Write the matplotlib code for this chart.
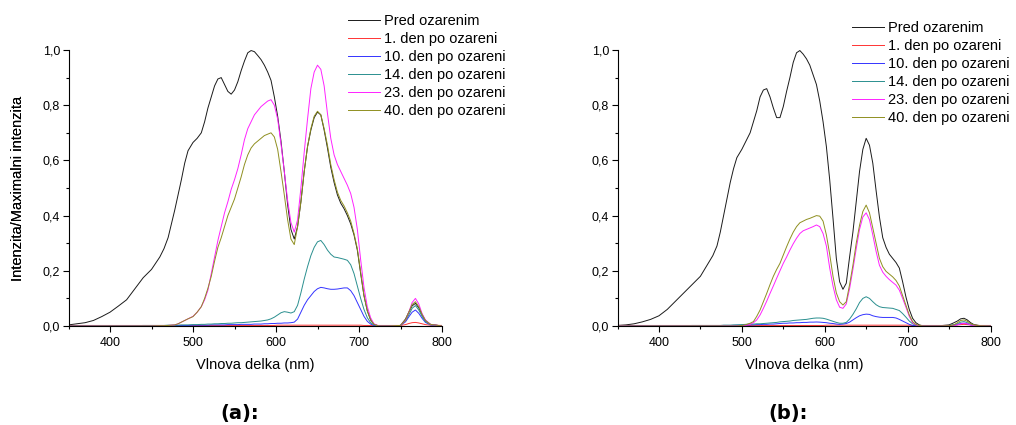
import matplotlib
matplotlib.use("Agg")
import matplotlib.pyplot as plt
from matplotlib.ticker import MultipleLocator, FuncFormatter
import numpy as np

plt.rcParams['font.family'] = ['Liberation Sans', 'DejaVu Sans']

# wavelength grid (nm), shared by both panels
wavelength = [350, 360, 370, 380, 390, 400, 410, 420, 430, 440, 450, 460, 465, 470, 474, 478,
              482, 486, 490, 494, 500, 505, 510, 514, 518, 522, 526, 530, 534, 538, 542, 546,
              550, 554, 558, 562, 566, 570, 574, 578, 582, 586, 590, 594, 598,
              602, 606, 610, 614, 618, 622, 626, 630, 634, 638, 642, 646,
              650, 654, 658, 662, 666, 670, 674, 678, 682, 686, 690, 694, 698,
              702, 706, 710, 714, 718, 724, 735, 750, 756, 760, 764, 768, 772, 776, 780, 786, 800]

labels = ['Pred ozarenim', '1. den po ozareni', '10. den po ozareni',
          '14. den po ozareni', '23. den po ozareni', '40. den po ozareni']
colors = ['#1a1a1a', '#ff3333', '#3333ff', '#2a8f8f', '#ff22ff', '#8f8f20']

# panel (a)
pred_a = [0.004, 0.008, 0.012, 0.02, 0.034, 0.05, 0.072, 0.095, 0.135, 0.175, 0.205, 0.25, 0.28, 0.32, 0.37, 0.42,
          0.475, 0.53, 0.59, 0.635, 0.665, 0.68, 0.70, 0.74, 0.79, 0.83, 0.87, 0.895, 0.90, 0.875, 0.85, 0.84,
          0.855, 0.885, 0.925, 0.96, 0.99, 0.998, 0.994, 0.98, 0.965, 0.945, 0.92, 0.89, 0.83,
          0.76, 0.67, 0.56, 0.44, 0.35, 0.315, 0.36, 0.45, 0.56, 0.65, 0.71, 0.755,
          0.775, 0.765, 0.71, 0.645, 0.575, 0.52, 0.475, 0.445, 0.425, 0.40, 0.37, 0.33, 0.275,
          0.19, 0.11, 0.055, 0.022, 0.006, 0.0, 0.0, 0.002, 0.025, 0.05, 0.073, 0.082, 0.066, 0.04, 0.02, 0.006, 0.0]
den1_a = [0.002, 0.002, 0.002, 0.002, 0.002, 0.002, 0.002, 0.002, 0.002, 0.002, 0.002, 0.002, 0.002, 0.002, 0.002, 0.002,
          0.002, 0.002, 0.002, 0.002, 0.002, 0.002, 0.002, 0.002, 0.002, 0.002, 0.002, 0.002, 0.002, 0.002, 0.002, 0.002,
          0.002, 0.002, 0.002, 0.002, 0.002, 0.002, 0.002, 0.002, 0.002, 0.002, 0.002, 0.002, 0.002,
          0.003, 0.003, 0.003, 0.003, 0.003, 0.003, 0.003, 0.003, 0.003, 0.003, 0.003, 0.003,
          0.003, 0.003, 0.003, 0.003, 0.003, 0.003, 0.003, 0.003, 0.003, 0.003, 0.003, 0.003, 0.003,
          0.003, 0.002, 0.002, 0.002, 0.002, 0.002, 0.002, 0.002, 0.005, 0.009, 0.012, 0.013, 0.011, 0.008, 0.005, 0.003, 0.002]
den10_a = [0.001, 0.001, 0.001, 0.001, 0.001, 0.001, 0.001, 0.001, 0.001, 0.001, 0.001, 0.001, 0.001, 0.001, 0.001, 0.002,
           0.002, 0.002, 0.002, 0.002, 0.003, 0.003, 0.003, 0.003, 0.003, 0.004, 0.004, 0.004, 0.004, 0.004, 0.005, 0.005,
           0.005, 0.005, 0.006, 0.006, 0.006, 0.006, 0.007, 0.007, 0.007, 0.008, 0.008, 0.009, 0.009,
           0.01, 0.01, 0.011, 0.011, 0.012, 0.014, 0.025, 0.05, 0.075, 0.095, 0.11, 0.125,
           0.135, 0.14, 0.138, 0.135, 0.133, 0.133, 0.134, 0.136, 0.138, 0.138, 0.128, 0.11, 0.085,
           0.06, 0.035, 0.017, 0.007, 0.002, 0.0, 0.0, 0.002, 0.015, 0.033, 0.05, 0.058, 0.046, 0.028, 0.013, 0.004, 0.0]
den14_a = [0.0, 0.0, 0.0, 0.0, 0.001, 0.001, 0.001, 0.001, 0.001, 0.002, 0.002, 0.002, 0.002, 0.003, 0.003, 0.003,
           0.003, 0.004, 0.004, 0.004, 0.005, 0.005, 0.006, 0.006, 0.007, 0.007, 0.008, 0.008, 0.009, 0.009, 0.01, 0.01,
           0.011, 0.012, 0.012, 0.013, 0.014, 0.015, 0.016, 0.017, 0.018, 0.02, 0.022, 0.026, 0.032,
           0.04, 0.048, 0.052, 0.05, 0.047, 0.052, 0.075, 0.12, 0.17, 0.215, 0.255, 0.285,
           0.305, 0.31, 0.295, 0.275, 0.26, 0.25, 0.248, 0.245, 0.242, 0.238, 0.222, 0.19, 0.145,
           0.10, 0.06, 0.03, 0.012, 0.004, 0.0, 0.0, 0.002, 0.018, 0.04, 0.064, 0.074, 0.058, 0.035, 0.016, 0.005, 0.0]
den23_a = [0.0, 0.0, 0.0, 0.0, 0.0, 0.0, 0.0, 0.0, 0.0, 0.0, 0.0, 0.001, 0.001, 0.002, 0.003, 0.004,
           0.008, 0.014, 0.02, 0.026, 0.035, 0.05, 0.07, 0.095, 0.13, 0.19, 0.25, 0.31, 0.36, 0.41, 0.45, 0.495,
           0.53, 0.57, 0.62, 0.675, 0.715, 0.74, 0.765, 0.78, 0.795, 0.805, 0.815, 0.82, 0.80,
           0.75, 0.66, 0.56, 0.455, 0.375, 0.34, 0.385, 0.50, 0.63, 0.75, 0.86, 0.92,
           0.945, 0.93, 0.87, 0.77, 0.68, 0.62, 0.585, 0.56, 0.535, 0.51, 0.48, 0.43, 0.35,
           0.24, 0.14, 0.07, 0.03, 0.008, 0.0, 0.0, 0.002, 0.02, 0.05, 0.085, 0.10, 0.08, 0.045, 0.022, 0.006, 0.0]
den40_a = [0.0, 0.0, 0.0, 0.0, 0.0, 0.0, 0.0, 0.0, 0.0, 0.0, 0.0, 0.001, 0.001, 0.002, 0.003, 0.004,
           0.008, 0.014, 0.02, 0.026, 0.034, 0.05, 0.07, 0.10, 0.137, 0.18, 0.235, 0.285, 0.32, 0.36, 0.40, 0.43,
           0.46, 0.50, 0.54, 0.585, 0.62, 0.645, 0.66, 0.67, 0.68, 0.69, 0.695, 0.70, 0.685,
           0.64, 0.56, 0.475, 0.385, 0.315, 0.295, 0.36, 0.45, 0.56, 0.65, 0.715, 0.76,
           0.778, 0.765, 0.715, 0.655, 0.585, 0.53, 0.485, 0.455, 0.435, 0.41, 0.38, 0.335, 0.28,
           0.195, 0.11, 0.055, 0.022, 0.006, 0.0, 0.0, 0.002, 0.022, 0.05, 0.078, 0.088, 0.07, 0.042, 0.02, 0.006, 0.0]

# panel (b)
pred_b = [0.002, 0.004, 0.008, 0.015, 0.024, 0.037, 0.06, 0.09, 0.12, 0.15, 0.18, 0.23, 0.255, 0.29, 0.34, 0.40,
          0.46, 0.52, 0.57, 0.61, 0.64, 0.67, 0.70, 0.74, 0.78, 0.83, 0.855, 0.86, 0.83, 0.79, 0.755, 0.755,
          0.795, 0.85, 0.90, 0.955, 0.99, 0.998, 0.985, 0.968, 0.945, 0.91, 0.875, 0.815, 0.74,
          0.65, 0.53, 0.39, 0.245, 0.16, 0.133, 0.155, 0.25, 0.34, 0.45, 0.56, 0.64,
          0.68, 0.655, 0.59, 0.49, 0.395, 0.32, 0.285, 0.26, 0.245, 0.23, 0.21, 0.16, 0.105,
          0.06, 0.028, 0.012, 0.004, 0.001, 0.0, 0.0, 0.004, 0.012, 0.018, 0.026, 0.028, 0.022, 0.012, 0.005, 0.002, 0.0]
den1_b = [0.002, 0.002, 0.002, 0.002, 0.002, 0.002, 0.002, 0.002, 0.002, 0.002, 0.002, 0.002, 0.002, 0.002, 0.002, 0.002,
          0.002, 0.002, 0.002, 0.002, 0.002, 0.002, 0.002, 0.002, 0.002, 0.002, 0.002, 0.002, 0.002, 0.002, 0.002, 0.002,
          0.002, 0.002, 0.002, 0.002, 0.002, 0.002, 0.002, 0.002, 0.002, 0.002, 0.002, 0.002, 0.002,
          0.003, 0.003, 0.003, 0.003, 0.003, 0.003, 0.003, 0.003, 0.003, 0.003, 0.003, 0.003,
          0.003, 0.003, 0.003, 0.003, 0.003, 0.003, 0.003, 0.003, 0.003, 0.003, 0.003, 0.003, 0.003,
          0.003, 0.002, 0.002, 0.002, 0.002, 0.002, 0.002, 0.002, 0.003, 0.004, 0.005, 0.006, 0.005, 0.004, 0.003, 0.002, 0.002]
den10_b = [0.001, 0.001, 0.001, 0.001, 0.001, 0.001, 0.001, 0.001, 0.001, 0.001, 0.001, 0.001, 0.001, 0.001, 0.001, 0.002,
           0.002, 0.002, 0.002, 0.003, 0.003, 0.003, 0.004, 0.004, 0.005, 0.005, 0.006, 0.006, 0.007, 0.007, 0.008, 0.009,
           0.01, 0.01, 0.011, 0.011, 0.012, 0.012, 0.013, 0.013, 0.014, 0.014, 0.0145, 0.014, 0.013,
           0.012, 0.01, 0.009, 0.007, 0.006, 0.007, 0.009, 0.014, 0.022, 0.03, 0.037, 0.041,
           0.043, 0.042, 0.037, 0.034, 0.032, 0.031, 0.031, 0.031, 0.031, 0.029, 0.024, 0.018, 0.012,
           0.006, 0.002, 0.001, 0.0, 0.0, 0.0, 0.0, 0.001, 0.003, 0.005, 0.009, 0.01, 0.008, 0.004, 0.002, 0.001, 0.0]
den14_b = [0.0, 0.0, 0.0, 0.0, 0.001, 0.001, 0.001, 0.001, 0.001, 0.002, 0.002, 0.002, 0.002, 0.002, 0.002, 0.003,
           0.003, 0.003, 0.004, 0.004, 0.005, 0.006, 0.007, 0.007, 0.008, 0.008, 0.009, 0.01, 0.011, 0.012, 0.013, 0.015,
           0.016, 0.017, 0.018, 0.02, 0.021, 0.022, 0.023, 0.024, 0.026, 0.028, 0.029, 0.029, 0.028,
           0.025, 0.021, 0.017, 0.013, 0.01, 0.01, 0.013, 0.025, 0.042, 0.062, 0.085, 0.10,
           0.106, 0.10, 0.088, 0.077, 0.07, 0.067, 0.066, 0.065, 0.064, 0.06, 0.056, 0.045, 0.032,
           0.018, 0.008, 0.003, 0.001, 0.0, 0.0, 0.0, 0.002, 0.005, 0.008, 0.014, 0.016, 0.012, 0.006, 0.003, 0.001, 0.0]
den23_b = [0.0, 0.0, 0.0, 0.0, 0.0, 0.0, 0.0, 0.0, 0.0, 0.0, 0.0, 0.0, 0.0, 0.0, 0.0, 0.0,
           0.0, 0.0, 0.0, 0.0, 0.001, 0.003, 0.006, 0.012, 0.022, 0.04, 0.064, 0.09, 0.118, 0.145, 0.173, 0.20,
           0.227, 0.25, 0.275, 0.298, 0.318, 0.335, 0.345, 0.35, 0.355, 0.36, 0.366, 0.36, 0.335,
           0.29, 0.21, 0.145, 0.095, 0.068, 0.064, 0.08, 0.135, 0.205, 0.28, 0.35, 0.395,
           0.41, 0.385, 0.33, 0.27, 0.22, 0.195, 0.18, 0.168, 0.158, 0.148, 0.13, 0.10, 0.068,
           0.035, 0.012, 0.004, 0.001, 0.0, 0.0, 0.0, 0.001, 0.002, 0.004, 0.008, 0.01, 0.008, 0.004, 0.002, 0.001, 0.0]
den40_b = [0.0, 0.0, 0.0, 0.0, 0.0, 0.0, 0.0, 0.0, 0.0, 0.0, 0.0, 0.0, 0.0, 0.0, 0.0, 0.0,
           0.0, 0.0, 0.0, 0.0, 0.002, 0.005, 0.01, 0.016, 0.035, 0.058, 0.088, 0.118, 0.15, 0.18, 0.205, 0.227,
           0.257, 0.287, 0.315, 0.34, 0.36, 0.374, 0.38, 0.386, 0.39, 0.395, 0.40, 0.398, 0.38,
           0.33, 0.26, 0.18, 0.12, 0.088, 0.076, 0.088, 0.15, 0.22, 0.30, 0.365, 0.415,
           0.438, 0.41, 0.355, 0.30, 0.245, 0.215, 0.198, 0.188, 0.178, 0.165, 0.145, 0.11, 0.075,
           0.04, 0.016, 0.006, 0.002, 0.0, 0.0, 0.0, 0.001, 0.004, 0.012, 0.02, 0.022, 0.017, 0.009, 0.004, 0.001, 0.0]

panels = [
    ([pred_a, den1_a, den10_a, den14_a, den23_a, den40_a], '(a):'),
    ([pred_b, den1_b, den10_b, den14_b, den23_b, den40_b], '(b):'),
]

W, H = 1016, 425
fig = plt.figure(figsize=(W / 100, H / 100), dpi=100)

# axes boxes in pixels: left, right, legend handle x, legend top y
boxes = [(68.5, 442, 348, 14), (617.5, 990.5, 852, 21)]
y0_px, y1_px = 326, 50

comma = FuncFormatter(lambda v, pos: f"{v:.1f}".replace('.', ','))

for (series, tag), (lpx, rpx, leg_x, leg_y) in zip(panels, boxes):
    ax = fig.add_axes([lpx / W, 1 - y0_px / H, (rpx - lpx) / W, (y0_px - y1_px) / H])
    x = np.array(wavelength)
    for vals, lab, col in zip(series, labels, colors):
        ax.plot(x, vals, color=col, lw=0.7, label=lab)

    ax.set_xlim(350, 800)
    ax.set_ylim(0, 1.0)
    ax.spines['top'].set_visible(False)
    ax.spines['right'].set_visible(False)
    ax.xaxis.set_major_locator(MultipleLocator(100))
    ax.xaxis.set_minor_locator(MultipleLocator(50))
    ax.yaxis.set_major_locator(MultipleLocator(0.2))
    ax.yaxis.set_minor_locator(MultipleLocator(0.1))
    ax.yaxis.set_major_formatter(comma)
    ax.tick_params(which='major', direction='out', length=4, width=0.8, labelsize=9, pad=2)
    ax.tick_params(which='minor', direction='out', length=2.5, width=0.8)
    ax.tick_params(axis='x', which='major', pad=4)

    ax.set_xlabel('Vlnova delka (nm)', fontsize=10.5)
    ax.set_ylabel('Intenzita/Maximalni intenzita', fontsize=10.5)
    ax.xaxis.set_label_coords(0.5, -0.115)
    ax.yaxis.set_label_coords((25 - lpx) / (rpx - lpx), 0.5)

    ax.legend(loc='upper left', bbox_to_anchor=(leg_x / W, 1 - leg_y / H),
              bbox_transform=fig.transFigure, frameon=False, fontsize=10.5,
              borderpad=0, borderaxespad=0, labelspacing=0.28,
              handlelength=2.2, handletextpad=0.3)

    fig.text(((lpx + rpx) / 2 - 16) / W, 1 - 413 / H, tag, ha='center', va='center',
             fontsize=14, fontweight='bold', family='DejaVu Sans')

fig.savefig('out.png', dpi=100)
